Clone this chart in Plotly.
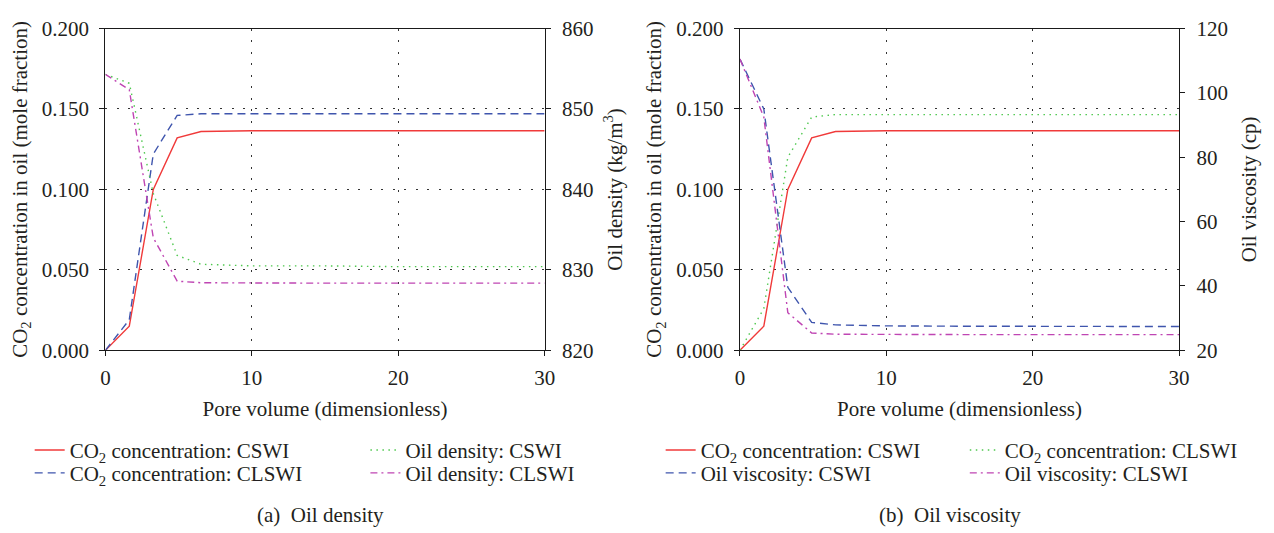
import plotly.graph_objects as go

# Pore volume sampling points (dimensionless)
pv = [0, 1.63, 3.27, 4.9, 6.53, 10, 15, 20, 25, 30]

# (a) CO2 concentration in oil (mole fraction) and oil density (kg/m3)
co2_cswi = [0.000, 0.015, 0.100, 0.132, 0.136, 0.1365, 0.1365, 0.1365, 0.1365, 0.1365]
co2_clswi_a = [0.000, 0.019, 0.122, 0.146, 0.147, 0.147, 0.147, 0.147, 0.147, 0.147]
dens_cswi = [854.3, 853.2, 839.5, 831.8, 830.7, 830.5, 830.5, 830.4, 830.4, 830.4]
dens_clswi = [854.3, 852.4, 834.0, 828.6, 828.4, 828.35, 828.35, 828.35, 828.35, 828.35]

# (b) CO2 concentration in oil (mole fraction) and oil viscosity (cp)
co2_clswi_b = [0.000, 0.026, 0.120, 0.145, 0.1465, 0.1465, 0.1465, 0.1465, 0.1465, 0.1465]
visc_cswi = [110.5, 95.0, 39.6, 28.7, 27.9, 27.6, 27.5, 27.4, 27.4, 27.4]
visc_clswi = [110.5, 92.5, 31.7, 25.4, 25.0, 24.9, 24.9, 24.9, 24.9, 24.9]

x_ticks = [0, 10, 20, 30]
co2_ticks = [0.0, 0.05, 0.1, 0.15, 0.2]
dens_ticks = [820, 830, 840, 850, 860]
visc_ticks = [20, 40, 60, 80, 100, 120]

W, H = 1274, 533
FONT = "Liberation Serif"
TXT = "#231f20"

RED = dict(color="#f03a3a", width=1.4)
BLUE = dict(color="#3f55ad", width=1.4, dash="8px,5px")
GREEN = dict(color="#4fc84f", width=1.4, dash="1.5px,4.5px")
MAGENTA = dict(color="#bf45b3", width=1.4, dash="7px,4px,2px,4px")

fig = go.Figure()

def add(x, y, xa, ya, name, line, legend):
    fig.add_trace(go.Scatter(x=x, y=y, xaxis=xa, yaxis=ya, mode="lines",
                             name=name, line=line, legend=legend))

add(pv, co2_cswi, "x", "y", "CO<sub>2</sub> concentration: CSWI", RED, "legend")
add(pv, co2_clswi_a, "x", "y", "CO<sub>2</sub> concentration: CLSWI", BLUE, "legend2")
add(pv, dens_cswi, "x", "y2", "Oil density: CSWI", GREEN, "legend3")
add(pv, dens_clswi, "x", "y2", "Oil density: CLSWI", MAGENTA, "legend4")

add(pv, co2_cswi, "x2", "y3", "CO<sub>2</sub> concentration: CSWI", RED, "legend5")
add(pv, co2_clswi_b, "x2", "y3", "CO<sub>2</sub> concentration: CLSWI", GREEN, "legend6")
add(pv, visc_cswi, "x2", "y4", "Oil viscosity: CSWI", BLUE, "legend7")
add(pv, visc_clswi, "x2", "y4", "Oil viscosity: CLSWI", MAGENTA, "legend8")

ydom = [1 - 354.3 / H, 1 - 17.3 / H]
xdom_a = [101.7 / W, 546.5 / W]
xdom_b = [744.3 / W, 1189.0 / W]

grid = dict(showgrid=True, gridcolor="#333333", gridwidth=1, griddash="2px,9.5px")
axline = dict(showline=True, linecolor="#1a1a1a", linewidth=1.3,
              ticks="outside", ticklen=5, tickcolor="#1a1a1a", tickwidth=1.2,
              tickfont=dict(family=FONT, size=21, color=TXT), zeroline=False)

def xaxis(dom, anchor):
    return dict(domain=dom, anchor=anchor, range=[0, 30], tickvals=x_ticks,
                mirror=True, ticklabelstandoff=3,
                title=dict(text="Pore volume (dimensionless)",
                           font=dict(family=FONT, size=21, color=TXT), standoff=12),
                **grid, **axline)

def yleft(anchor):
    return dict(domain=ydom, anchor=anchor, range=[0, 0.2], tickvals=co2_ticks,
                tickformat=".3f", ticklabelstandoff=6,
                title=dict(text="CO<sub>2</sub> concentration in oil (mole fraction)",
                           font=dict(family=FONT, size=21, color=TXT), standoff=8),
                **grid, **axline)

def yright(anchor, over, rng, ticks, title):
    return dict(domain=ydom, anchor=anchor, overlaying=over, side="right",
                range=rng, tickvals=ticks, showgrid=False, ticklabelstandoff=7,
                title=dict(text=title, font=dict(family=FONT, size=21, color=TXT),
                           standoff=14),
                **axline)

legends = {}
rows = [459, 483]
cols_a = [25, 365]
cols_b = [664, 972]
names = ["legend", "legend2", "legend3", "legend4",
         "legend5", "legend6", "legend7", "legend8"]
positions = [(cols_a[0], rows[0]), (cols_a[0], rows[1]),
             (cols_a[1], rows[0]), (cols_a[1], rows[1]),
             (cols_b[0], rows[0]), (cols_b[1], rows[0]),
             (cols_b[0], rows[1]), (cols_b[1], rows[1])]
for nm, (px, py) in zip(names, positions):
    legends[nm] = dict(x=px / W, y=1 - py / H, xanchor="left", yanchor="middle",
                       bgcolor="rgba(0,0,0,0)", borderwidth=0,
                       font=dict(family=FONT, size=21, color=TXT))

fig.update_layout(
    width=W, height=H,
    margin=dict(l=0, r=0, t=0, b=0),
    font=dict(family=FONT, size=21, color=TXT),
    paper_bgcolor="white", plot_bgcolor="white",
    showlegend=True,
    xaxis=xaxis(xdom_a, "y"),
    yaxis=yleft("x"),
    yaxis2=yright("x", "y", [820, 860], dens_ticks, "Oil density (kg/m<sup>3</sup>)"),
    xaxis2=xaxis(xdom_b, "y3"),
    yaxis3=yleft("x2"),
    yaxis4=yright("x2", "y3", [20, 120], visc_ticks, "Oil viscosity (cp)"),
    annotations=[
        dict(text="(a)  Oil density", x=320 / W, y=1 - 527 / H, xref="paper", yref="paper",
             showarrow=False, xanchor="center", yanchor="middle",
             font=dict(family=FONT, size=21, color=TXT)),
        dict(text="(b)  Oil viscosity", x=957 / W, y=1 - 527 / H, xref="paper", yref="paper",
             showarrow=False, xanchor="center", yanchor="middle",
             font=dict(family=FONT, size=21, color=TXT)),
    ],
    **legends,
)

fig.write_html("out.html")
